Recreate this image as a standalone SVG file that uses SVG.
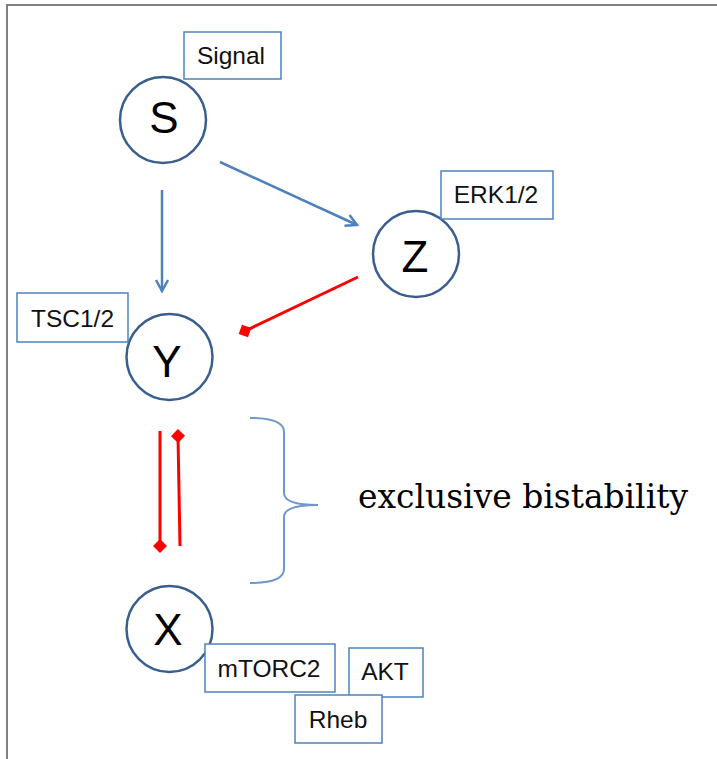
<svg xmlns="http://www.w3.org/2000/svg" width="717" height="759" viewBox="0 0 717 759">
<style>
.circ{fill:#fff;stroke:#3A5F8E;stroke-width:2.5}
.big{font-family:"Liberation Sans",Arial,sans-serif;font-size:44px;fill:#000;text-anchor:middle}
.box{fill:#fff;stroke:#4F81BD;stroke-width:1.5}
.lbl{font-family:"Liberation Sans",Arial,sans-serif;font-size:24.5px;fill:#111;text-anchor:middle}
.act{fill:none;stroke:#4F81BD;stroke-width:2.5}
.inh{fill:none;stroke:#FF0000;stroke-width:3}
</style>
<defs>
<marker id="openArrow" viewBox="0 0 14 14" refX="12" refY="7" markerWidth="14" markerHeight="14" markerUnits="userSpaceOnUse" orient="auto">
<path d="M1,1 L12,7 L1,13" fill="none" stroke="#4F81BD" stroke-width="2.5"/>
</marker>
<marker id="diamond" viewBox="0 0 14 14" refX="7" refY="7" markerWidth="14" markerHeight="14" markerUnits="userSpaceOnUse" orient="auto">
<path d="M0,7 L7,0 L14,7 L7,14 Z" fill="#FF0000"/>
</marker>
</defs>
<rect width="717" height="759" fill="#fff"/>
<g id="frame">
<line x1="6" y1="5" x2="717" y2="5" stroke="#7F7F7F" stroke-width="2"/>
<line x1="7" y1="5" x2="7" y2="759" stroke="#7F7F7F" stroke-width="2"/>
</g>
<g id="connectors">
<line class="act" x1="162" y1="190" x2="162" y2="291" marker-end="url(#openArrow)"/>
<line class="act" x1="220" y1="162" x2="357" y2="225" marker-end="url(#openArrow)"/>
<line class="inh" x1="358" y1="277" x2="245" y2="331" marker-end="url(#diamond)"/>
<line class="inh" x1="160" y1="431" x2="160" y2="546" marker-end="url(#diamond)"/>
<line class="inh" x1="180" y1="546" x2="178" y2="436" marker-end="url(#diamond)"/>
</g>
<g id="brace">
<path d="M250,418 Q284,418 284,432 L284,493 Q284,505 318,505 Q284,505 284,517 L284,569 Q284,583 250,583" fill="none" stroke="#6F97C9" stroke-width="2"/>
<text x="523" y="508" font-family="'DejaVu Serif','Liberation Serif',serif" font-size="33" fill="#000" text-anchor="middle" textLength="330" lengthAdjust="spacingAndGlyphs">exclusive bistability</text>
</g>
<g id="node-S">
<circle class="circ" cx="163" cy="120" r="43"/>
<text class="big" x="164" y="133">S</text>
</g>
<g id="label-Signal">
<rect class="box" x="184" y="32" width="97" height="47"/>
<text class="lbl" x="231" y="64">Signal</text>
</g>
<g id="node-Z">
<circle class="circ" cx="416" cy="254" r="43"/>
<text class="big" x="415" y="272">Z</text>
</g>
<g id="label-ERK">
<rect class="box" x="441" y="171" width="112" height="48"/>
<text class="lbl" x="496" y="203">ERK1/2</text>
</g>
<g id="node-Y">
<circle class="circ" cx="169.5" cy="357" r="43"/>
<text class="big" x="167" y="377">Y</text>
</g>
<g id="label-TSC">
<rect class="box" x="17" y="293" width="111" height="49"/>
<text class="lbl" x="72.5" y="327">TSC1/2</text>
</g>
<g id="node-X">
<circle class="circ" cx="169.5" cy="629" r="43"/>
<text class="big" x="168" y="645">X</text>
</g>
<g id="label-mTORC2">
<rect class="box" x="205" y="644" width="130" height="48"/>
<text class="lbl" x="269" y="677">mTORC2</text>
</g>
<g id="label-AKT">
<rect class="box" x="349" y="648" width="74" height="49"/>
<text class="lbl" x="385" y="680">AKT</text>
</g>
<g id="label-Rheb">
<rect class="box" x="295" y="695" width="87" height="48"/>
<text class="lbl" x="338" y="728">Rheb</text>
</g>
</svg>
